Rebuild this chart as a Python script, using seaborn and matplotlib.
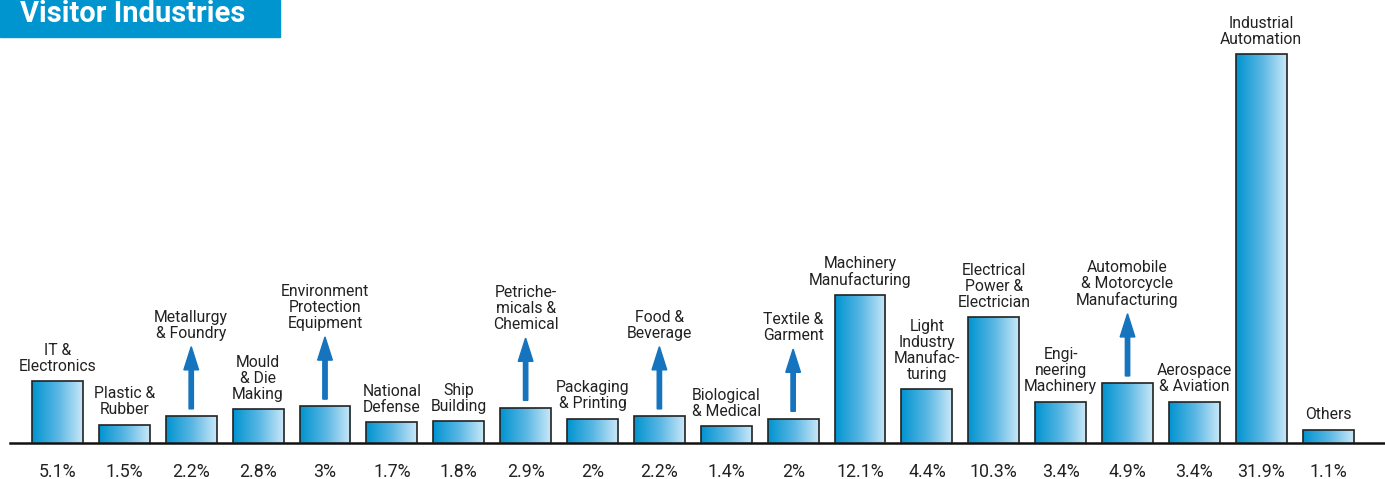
import numpy as np
import pandas as pd
import matplotlib
matplotlib.use("Agg")
import matplotlib.pyplot as plt
import seaborn as sns
from matplotlib.colors import LinearSegmentedColormap
from matplotlib.patches import Rectangle

# ---------------- data ----------------
industries = [
    "IT &\nElectronics", "Plastic &\nRubber", "Metallurgy\n& Foundry", "Mould\n& Die\nMaking",
    "Environment\nProtection\nEquipment", "National\nDefense", "Ship\nBuilding",
    "Petriche-\nmicals &\nChemical", "Packaging\n& Printing", "Food &\nBeverage",
    "Biological\n& Medical", "Textile &\nGarment", "Machinery\nManufacturing",
    "Light\nIndustry\nManufac-\nturing", "Electrical\nPower &\nElectrician",
    "Engi-\nneering\nMachinery", "Automobile\n& Motorcycle\nManufacturing",
    "Aerospace\n& Aviation", "Industrial\nAutomation", "Others",
]
shares = [5.1, 1.5, 2.2, 2.8, 3.0, 1.7, 1.8, 2.9, 2.0, 2.2,
          1.4, 2.0, 12.1, 4.4, 10.3, 3.4, 4.9, 3.4, 31.9, 1.1]
share_labels = ["5.1%", "1.5%", "2.2%", "2.8%", "3%", "1.7%", "1.8%", "2.9%", "2%", "2.2%",
                "1.4%", "2%", "12.1%", "4.4%", "10.3%", "3.4%", "4.9%", "3.4%", "31.9%", "1.1%"]
# bars that get a "growing" arrow
growing = ["Metallurgy\n& Foundry", "Environment\nProtection\nEquipment",
           "Petriche-\nmicals &\nChemical", "Food &\nBeverage", "Textile &\nGarment",
           "Automobile\n& Motorcycle\nManufacturing"]

df = pd.DataFrame({"industry": industries, "share": shares})

sns.set_style("white")
plt.rcParams["font.family"] = ["Roboto", "DejaVu Sans"]

fig = plt.figure(figsize=(13.85, 4.79), dpi=100)
ax = fig.add_axes([10 / 1385, 36 / 479, 1 - 10 / 1385, 443 / 479])

sns.barplot(data=df, x="industry", y="share", ax=ax, width=0.76,
            color="white", edgecolor="#222222", linewidth=1.2, zorder=3)

# horizontal gradient inside each bar
grad = LinearSegmentedColormap.from_list("g", ["#0094d0", "#58b6e3", "#c9e8f8"])
gimg = np.linspace(0, 1, 256).reshape(1, -1)
for p in ax.patches:
    x0, y0 = p.get_x(), p.get_y()
    w, h = p.get_width(), p.get_height()
    im = ax.imshow(gimg, cmap=grad, aspect="auto", extent=[x0, x0 + w, y0, y0 + h],
                   zorder=2, interpolation="bicubic")
    im.set_clip_path(p)
    p.set_facecolor("none")

ax.set_xlim(-0.71, 19.85)
ax.set_ylim(0, 36.34)

# arrows and category labels
for i, (name, v) in enumerate(zip(industries, shares)):
    if name in growing:
        ax.arrow(i, v + 0.6, 0, 5.1, width=0.065, head_width=0.22, head_length=1.9,
                 length_includes_head=True, color="#1574bd", zorder=4)
        top = v + 6.2
    else:
        top = v + 0.6
    ax.text(i, top, name, ha="center", va="bottom", fontsize=11.3,
            color="#222222", linespacing=1.08)

ax.set_xticks(range(len(share_labels)))
ax.set_xticklabels(share_labels, fontsize=12.8, color="#222222")
ax.tick_params(axis="x", length=0, pad=14.5)
ax.set_yticks([])
ax.set_xlabel("")
ax.set_ylabel("")
for s in ["top", "left", "right"]:
    ax.spines[s].set_visible(False)
ax.spines["bottom"].set_color("#111111")
ax.spines["bottom"].set_linewidth(1.8)
ax.spines["bottom"].set_zorder(1)

# title box
fig.patches.append(Rectangle((0, 1 - 37 / 479), 280 / 1385, 37 / 479,
                             transform=fig.transFigure, color="#0095cf", zorder=0))
fig.text(20 / 1385, 1 - 22 / 479, "Visitor Industries", color="white",
         fontsize=21, fontweight="bold", va="baseline", ha="left")

fig.savefig("out.png", dpi=100)
